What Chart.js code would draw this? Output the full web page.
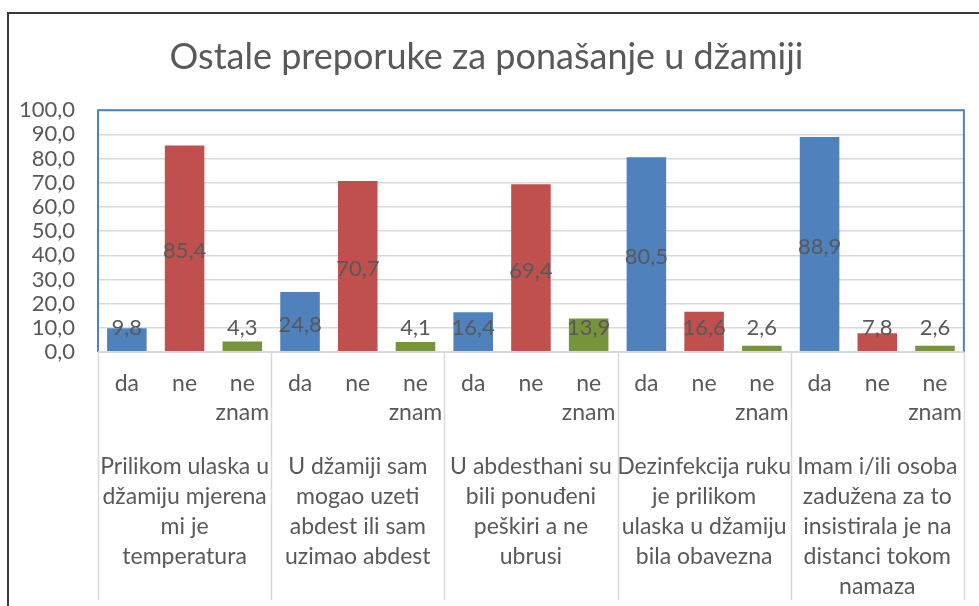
<!DOCTYPE html>
<html>
<head>
<meta charset="utf-8">
<script src="https://cdn.jsdelivr.net/npm/chart.js@4/dist/chart.umd.min.js"></script>
<style>
  html, body { margin: 0; padding: 0; background: #fff; }
  #wrap { width: 979px; height: 606px; position: relative; }
</style>
</head>
<body>
<div id="wrap"><canvas id="c" width="979" height="606"></canvas></div>
<script>
// ---- data ----
const titleText = "Ostale preporuke za ponašanje u džamiji";
const groups = [
  ["Prilikom ulaska u", "džamiju mjerena", "mi je", "temperatura"],
  ["U džamiji sam", "mogao uzeti", "abdest ili sam", "uzimao abdest"],
  ["U abdesthani su", "bili ponuđeni", "peškiri a ne", "ubrusi"],
  ["Dezinfekcija ruku", "je prilikom", "ulaska u džamiju", "bila obavezna"],
  ["Imam i/ili osoba", "zadužena za to", "insistirala je na", "distanci tokom", "namaza"]
];
const answers = ["da", "ne", ["ne", "znam"]];
const daValues = [9.8, 24.8, 16.4, 80.5, 88.9];
const neValues = [85.4, 70.7, 69.4, 16.6, 7.8];
const neZnamValues = [4.3, 4.1, 13.9, 2.6, 2.6];
const yTicks = [0, 10, 20, 30, 40, 50, 60, 70, 80, 90, 100];

// ---- styling ----
const answerColors = ["#4F81BD", "#C0504D", "#77933C"];
const textColor = "#595959";
const FONT = "Lato";

// build flattened table for the library
const labels = [];
const values = [];
const colors = [];
const seriesByAnswer = [daValues, neValues, neZnamValues];
groups.forEach((g, gi) => {
  answers.forEach((a, ai) => {
    labels.push(a);
    values.push(seriesByAnswer[ai][gi]);
    colors.push(answerColors[ai]);
  });
});

const fmt = v => Number(v).toFixed(1).replace('.', ',');

const decorPlugin = {
  id: 'decor',
  beforeDraw(chart) {
    const ctx = chart.ctx;
    ctx.save();
    ctx.fillStyle = '#fff';
    ctx.fillRect(0, 0, chart.width, chart.height);
    ctx.strokeStyle = '#3a3a3a';
    ctx.lineWidth = 2;
    ctx.beginPath();
    ctx.moveTo(8, chart.height + 2);
    ctx.lineTo(8, 13);
    ctx.lineTo(chart.width + 2, 13);
    ctx.stroke();
    ctx.restore();
  },
  afterDatasetsDraw(chart) {
    const ctx = chart.ctx;
    const ca = chart.chartArea;
    const x2 = chart.scales.x2;
    ctx.save();
    ctx.strokeStyle = '#4F81BD';
    ctx.lineWidth = 2;
    ctx.beginPath();
    ctx.moveTo(ca.left, ca.bottom);
    ctx.lineTo(ca.left, ca.top);
    ctx.lineTo(ca.right, ca.top);
    ctx.lineTo(ca.right, ca.bottom);
    ctx.stroke();
    ctx.strokeStyle = '#D9D9D9';
    ctx.lineWidth = 2;
    ctx.beginPath();
    ctx.moveTo(ca.left, ca.bottom);
    ctx.lineTo(ca.right, ca.bottom);
    ctx.stroke();
    const n = groups.length;
    const segW = (x2.right - x2.left) / n;
    ctx.lineWidth = 1.5;
    for (let i = 0; i <= n; i++) {
      const x = Math.round(x2.left + i * segW) + 0.5;
      ctx.beginPath();
      ctx.moveTo(x, ca.bottom);
      ctx.lineTo(x, x2.bottom - 6);
      ctx.stroke();
    }
    const meta = chart.getDatasetMeta(0);
    const ys = chart.scales.y;
    const base = ys.getPixelForValue(0);
    ctx.fillStyle = textColor;
    ctx.font = `22px ${FONT}`;
    ctx.textAlign = 'center';
    ctx.textBaseline = 'middle';
    meta.data.forEach((bar, i) => {
      const mid = (bar.y + bar.base) / 2;
      const y = Math.min(mid + 3, base - 24);
      ctx.fillText(fmt(chart.data.datasets[0].data[i]), bar.x, y);
    });
    ctx.restore();
  }
};

new Chart(document.getElementById('c'), {
  type: 'bar',
  data: {
    labels: labels,
    datasets: [{
      data: values,
      backgroundColor: colors,
      borderWidth: 0,
      categoryPercentage: 1.0,
      barPercentage: 0.685
    }]
  },
  plugins: [decorPlugin],
  options: {
    responsive: false,
    animation: false,
    devicePixelRatio: 1,
    layout: { padding: { left: 0, right: 6, top: 0, bottom: 0 } },
    plugins: {
      legend: { display: false },
      tooltip: { enabled: false },
      title: {
        display: true,
        text: titleText,
        color: textColor,
        font: { family: FONT, size: 36, weight: 'normal', lineHeight: 1.2 },
        padding: { top: 36, bottom: 31 }
      }
    },
    scales: {
      y: {
        min: 0,
        max: 100,
        afterBuildTicks: s => { s.ticks = yTicks.map(v => ({ value: v })); },
        afterFit: s => { s.width = 98; },
        ticks: {
          color: textColor,
          font: { family: FONT, size: 22 },
          padding: 23,
          autoSkip: false,
          callback: v => fmt(v)
        },
        grid: { color: '#D9D9D9', lineWidth: 1.5, drawTicks: false },
        border: { display: false }
      },
      x: {
        position: 'bottom',
        afterFit: s => { s.height = 88; },
        ticks: {
          color: textColor,
          font: { family: FONT, size: 23, lineHeight: 1.26 },
          padding: 17,
          maxRotation: 0,
          autoSkip: false
        },
        grid: { display: false, drawTicks: false },
        border: { display: false }
      },
      x2: {
        type: 'category',
        position: 'bottom',
        labels: groups,
        offset: true,
        afterFit: s => { s.height = 166; },
        ticks: {
          color: textColor,
          font: { family: FONT, size: 23, lineHeight: 1.3 },
          padding: 12,
          maxRotation: 0,
          autoSkip: false
        },
        grid: { display: false, drawTicks: false },
        border: { display: false }
      }
    }
  }
});
</script>
</body>
</html>
